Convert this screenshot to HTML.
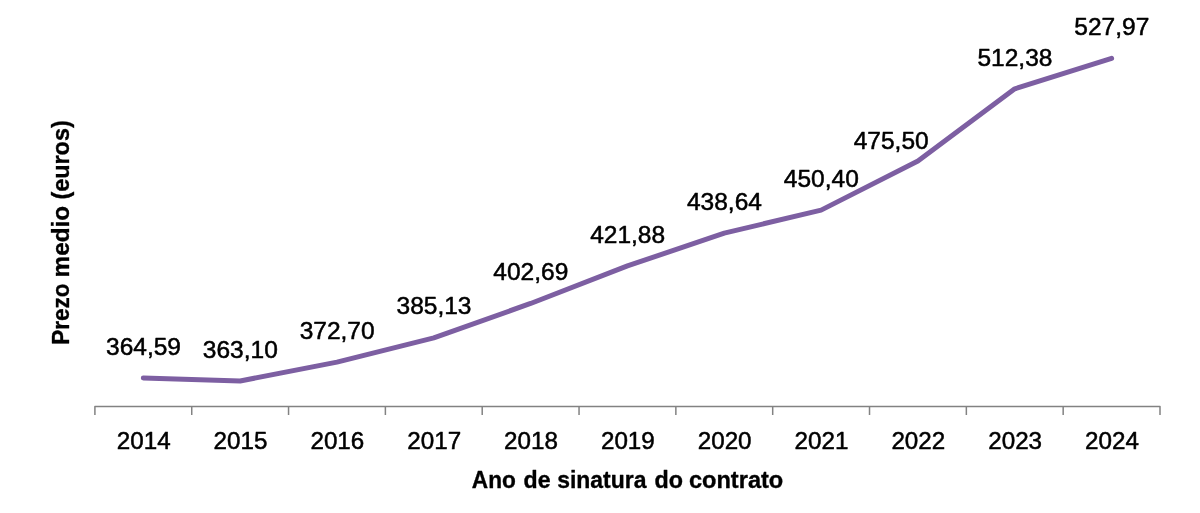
<!DOCTYPE html>
<html><head><meta charset="utf-8"><title>Chart</title>
<style>html,body{margin:0;padding:0;background:#fff;overflow:hidden;width:1200px;height:513px;}svg{display:block;position:absolute;left:0;top:0;will-change:transform;}text{font-family:"Liberation Sans",sans-serif;fill:#000;}.r{stroke:#000;stroke-width:0.5px;stroke-linejoin:round;}.b{font-weight:bold;stroke:#000;stroke-width:0.35px;stroke-linejoin:round;}</style>
</head><body>
<svg width="1200" height="513" viewBox="0 0 1200 513">
<rect width="1200" height="513" fill="#ffffff"/>
<path d="M94.90 415 V406.5 H1160.00 V415" fill="none" stroke="#828282" stroke-width="1.5" stroke-linejoin="round"/>
<path d="M191.73 406.5 V415" stroke="#828282" stroke-width="1.5"/>
<path d="M288.55 406.5 V415" stroke="#828282" stroke-width="1.5"/>
<path d="M385.38 406.5 V415" stroke="#828282" stroke-width="1.5"/>
<path d="M482.21 406.5 V415" stroke="#828282" stroke-width="1.5"/>
<path d="M579.04 406.5 V415" stroke="#828282" stroke-width="1.5"/>
<path d="M675.86 406.5 V415" stroke="#828282" stroke-width="1.5"/>
<path d="M772.69 406.5 V415" stroke="#828282" stroke-width="1.5"/>
<path d="M869.52 406.5 V415" stroke="#828282" stroke-width="1.5"/>
<path d="M966.35 406.5 V415" stroke="#828282" stroke-width="1.5"/>
<path d="M1063.17 406.5 V415" stroke="#828282" stroke-width="1.5"/>
<polyline points="143.31,378.03 240.14,380.95 336.97,362.17 433.80,337.84 530.62,303.48 627.45,265.94 724.28,233.14 821.10,210.13 917.93,161.02 1014.76,88.85 1111.59,58.35" fill="none" stroke="#7d5fa2" stroke-width="5" stroke-linecap="round" stroke-linejoin="round"/>
<text class="r" x="143.51" y="354.68" font-size="23.5" text-anchor="middle" textLength="75.0" lengthAdjust="spacingAndGlyphs">364,59</text>
<text class="r" x="240.34" y="357.60" font-size="23.5" text-anchor="middle" textLength="75.0" lengthAdjust="spacingAndGlyphs">363,10</text>
<text class="r" x="337.17" y="338.82" font-size="23.5" text-anchor="middle" textLength="75.0" lengthAdjust="spacingAndGlyphs">372,70</text>
<text class="r" x="434.00" y="314.49" font-size="23.5" text-anchor="middle" textLength="75.0" lengthAdjust="spacingAndGlyphs">385,13</text>
<text class="r" x="530.82" y="280.13" font-size="23.5" text-anchor="middle" textLength="75.0" lengthAdjust="spacingAndGlyphs">402,69</text>
<text class="r" x="627.65" y="242.59" font-size="23.5" text-anchor="middle" textLength="75.0" lengthAdjust="spacingAndGlyphs">421,88</text>
<text class="r" x="724.48" y="209.79" font-size="23.5" text-anchor="middle" textLength="75.0" lengthAdjust="spacingAndGlyphs">438,64</text>
<text class="r" x="821.30" y="186.78" font-size="23.5" text-anchor="middle" textLength="75.0" lengthAdjust="spacingAndGlyphs">450,40</text>
<text class="r" x="891.20" y="149.20" font-size="23.5" text-anchor="middle" textLength="75.0" lengthAdjust="spacingAndGlyphs">475,50</text>
<text class="r" x="1014.96" y="65.50" font-size="23.5" text-anchor="middle" textLength="75.0" lengthAdjust="spacingAndGlyphs">512,38</text>
<text class="r" x="1111.79" y="35.00" font-size="23.5" text-anchor="middle" textLength="75.0" lengthAdjust="spacingAndGlyphs">527,97</text>
<text class="r" x="143.71" y="448.70" font-size="23.5" text-anchor="middle" textLength="53.8" lengthAdjust="spacingAndGlyphs">2014</text>
<text class="r" x="240.54" y="448.70" font-size="23.5" text-anchor="middle" textLength="53.8" lengthAdjust="spacingAndGlyphs">2015</text>
<text class="r" x="337.37" y="448.70" font-size="23.5" text-anchor="middle" textLength="53.8" lengthAdjust="spacingAndGlyphs">2016</text>
<text class="r" x="434.20" y="448.70" font-size="23.5" text-anchor="middle" textLength="53.8" lengthAdjust="spacingAndGlyphs">2017</text>
<text class="r" x="531.02" y="448.70" font-size="23.5" text-anchor="middle" textLength="53.8" lengthAdjust="spacingAndGlyphs">2018</text>
<text class="r" x="627.85" y="448.70" font-size="23.5" text-anchor="middle" textLength="53.8" lengthAdjust="spacingAndGlyphs">2019</text>
<text class="r" x="724.68" y="448.70" font-size="23.5" text-anchor="middle" textLength="53.8" lengthAdjust="spacingAndGlyphs">2020</text>
<text class="r" x="821.50" y="448.70" font-size="23.5" text-anchor="middle" textLength="53.8" lengthAdjust="spacingAndGlyphs">2021</text>
<text class="r" x="918.33" y="448.70" font-size="23.5" text-anchor="middle" textLength="53.8" lengthAdjust="spacingAndGlyphs">2022</text>
<text class="r" x="1015.16" y="448.70" font-size="23.5" text-anchor="middle" textLength="53.8" lengthAdjust="spacingAndGlyphs">2023</text>
<text class="r" x="1111.99" y="448.70" font-size="23.5" text-anchor="middle" textLength="53.8" lengthAdjust="spacingAndGlyphs">2024</text>
<text class="b" x="471.80" y="488.25" font-size="24" textLength="44.00" lengthAdjust="spacingAndGlyphs">Ano</text>
<text class="b" x="523.50" y="488.25" font-size="24" textLength="27.00" lengthAdjust="spacingAndGlyphs">de</text>
<text class="b" x="557.20" y="488.25" font-size="24" textLength="89.20" lengthAdjust="spacingAndGlyphs">sinatura</text>
<text class="b" x="654.50" y="488.25" font-size="24" textLength="28.50" lengthAdjust="spacingAndGlyphs">do</text>
<text class="b" x="688.90" y="488.25" font-size="24" textLength="94.40" lengthAdjust="spacingAndGlyphs">contrato</text>
<g transform="translate(69.30 344.70) rotate(-90)">
<text class="b" x="0.00" y="0" font-size="24" textLength="61.20" lengthAdjust="spacingAndGlyphs">Prezo</text>
<text class="b" x="67.30" y="0" font-size="24" textLength="71.50" lengthAdjust="spacingAndGlyphs">medio</text>
<text class="b" x="145.10" y="0" font-size="24" textLength="79.30" lengthAdjust="spacingAndGlyphs">(euros)</text>
</g>
</svg></body></html>
